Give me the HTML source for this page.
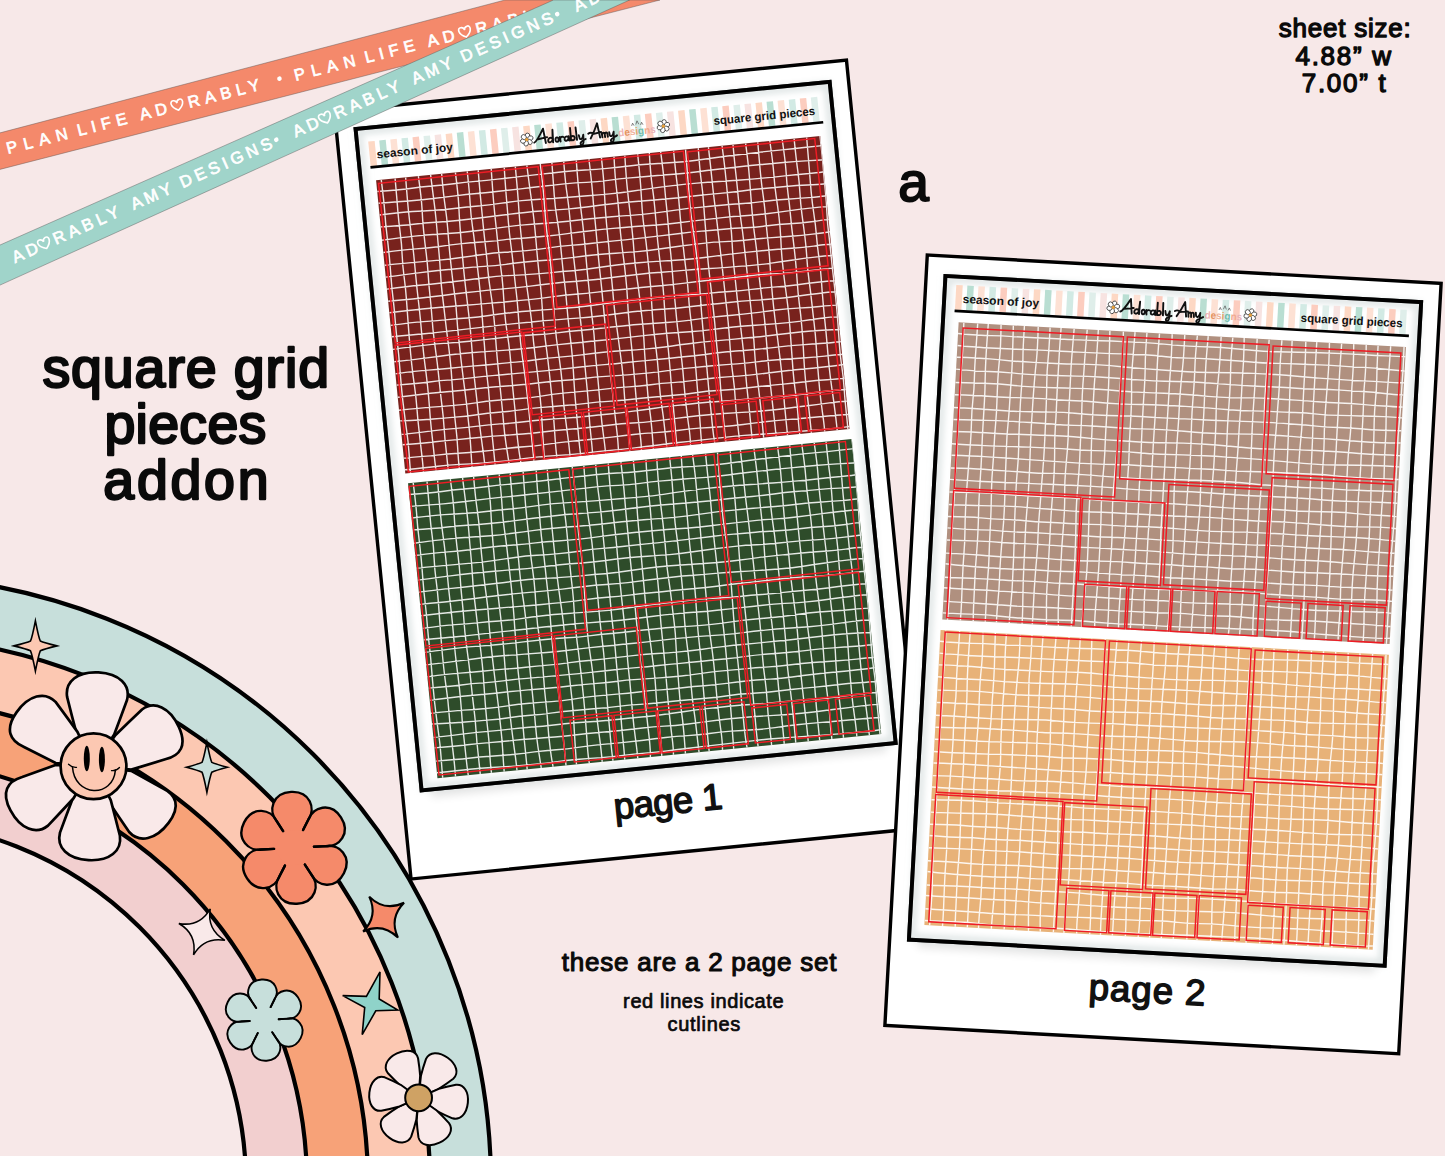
<!DOCTYPE html>
<html><head><meta charset="utf-8"><title>square grid pieces addon</title>
<style>html,body{margin:0;padding:0;background:#f7e8e8;}body{width:1445px;height:1156px;overflow:hidden;font-family:"Liberation Sans",sans-serif;}</style>
</head><body>
<svg width="1445" height="1156" viewBox="0 0 1445 1156" style="display:block;font-family:'Liberation Sans',sans-serif">
<defs>
<path id="grid" d="M5.2 0.0Q5.8 22.0 5.5 33.0Q5.1 44.0 5.4 55.0Q5.6 66.0 5.6 77.0Q5.5 88.0 5.2 99.0Q4.9 110.0 5.2 121.0Q5.4 132.0 5.1 143.0Q4.9 154.0 5.1 165.0Q5.3 176.0 5.0 187.0Q4.8 198.0 4.7 209.0Q4.6 220.0 4.9 231.0Q5.1 242.0 5.6 253.0Q6.1 264.0 5.7 275.0Q5.4 286.0 5.3 293.0L5.2 300.0M19.1 0.0Q18.9 22.0 18.6 33.0Q18.4 44.0 18.8 55.0Q19.2 66.0 18.5 77.0Q17.9 88.0 18.3 99.0Q18.7 110.0 18.4 121.0Q18.1 132.0 17.8 143.0Q17.5 154.0 17.3 165.0Q17.1 176.0 17.2 187.0Q17.3 198.0 17.8 209.0Q18.3 220.0 18.0 231.0Q17.7 242.0 17.9 253.0Q18.0 264.0 18.2 275.0Q18.4 286.0 18.2 293.0L18.1 300.0M29.7 0.0Q29.2 22.0 29.2 33.0Q29.2 44.0 29.6 55.0Q30.1 66.0 30.1 77.0Q30.1 88.0 30.0 99.0Q29.9 110.0 30.1 121.0Q30.3 132.0 30.3 143.0Q30.2 154.0 30.1 165.0Q30.0 176.0 30.3 187.0Q30.7 198.0 30.8 209.0Q30.9 220.0 30.6 231.0Q30.2 242.0 30.3 253.0Q30.4 264.0 30.5 275.0Q30.5 286.0 30.8 293.0L31.1 300.0M42.5 0.0Q43.4 22.0 42.9 33.0Q42.3 44.0 42.3 55.0Q42.3 66.0 42.6 77.0Q42.9 88.0 42.5 99.0Q42.1 110.0 42.2 121.0Q42.3 132.0 42.0 143.0Q41.6 154.0 42.0 165.0Q42.4 176.0 42.7 187.0Q42.9 198.0 42.9 209.0Q42.9 220.0 43.2 231.0Q43.5 242.0 43.1 253.0Q42.7 264.0 42.9 275.0Q43.0 286.0 43.0 293.0L43.0 300.0M54.8 0.0Q55.4 22.0 55.7 33.0Q55.9 44.0 55.7 55.0Q55.4 66.0 55.4 77.0Q55.4 88.0 54.9 99.0Q54.3 110.0 54.6 121.0Q54.9 132.0 55.0 143.0Q55.1 154.0 55.5 165.0Q55.9 176.0 55.9 187.0Q56.0 198.0 55.5 209.0Q55.1 220.0 54.9 231.0Q54.7 242.0 54.9 253.0Q55.1 264.0 54.6 275.0Q54.1 286.0 54.2 293.0L54.3 300.0M65.9 0.0Q65.6 22.0 66.2 33.0Q66.7 44.0 66.5 55.0Q66.2 66.0 66.1 77.0Q66.1 88.0 66.2 99.0Q66.3 110.0 66.8 121.0Q67.3 132.0 66.8 143.0Q66.4 154.0 66.5 165.0Q66.6 176.0 66.7 187.0Q66.9 198.0 67.2 209.0Q67.6 220.0 67.8 231.0Q67.9 242.0 68.0 253.0Q68.2 264.0 67.7 275.0Q67.2 286.0 67.1 293.0L67.0 300.0M79.7 0.0Q80.3 22.0 79.8 33.0Q79.2 44.0 78.9 55.0Q78.6 66.0 78.5 77.0Q78.4 88.0 78.3 99.0Q78.3 110.0 78.5 121.0Q78.7 132.0 78.9 143.0Q79.1 154.0 78.9 165.0Q78.7 176.0 78.4 187.0Q78.0 198.0 78.2 209.0Q78.4 220.0 78.5 231.0Q78.5 242.0 78.7 253.0Q79.0 264.0 79.4 275.0Q79.9 286.0 79.9 293.0L79.9 300.0M91.6 0.0Q91.8 22.0 91.3 33.0Q90.8 44.0 91.3 55.0Q91.8 66.0 92.0 77.0Q92.1 88.0 92.3 99.0Q92.5 110.0 92.5 121.0Q92.5 132.0 92.2 143.0Q91.8 154.0 91.6 165.0Q91.5 176.0 91.1 187.0Q90.7 198.0 91.0 209.0Q91.3 220.0 90.9 231.0Q90.5 242.0 90.3 253.0Q90.1 264.0 90.2 275.0Q90.2 286.0 90.2 293.0L90.1 300.0M102.6 0.0Q102.2 22.0 102.2 33.0Q102.2 44.0 102.1 55.0Q102.1 66.0 102.3 77.0Q102.5 88.0 102.3 99.0Q102.2 110.0 102.8 121.0Q103.5 132.0 103.6 143.0Q103.7 154.0 103.4 165.0Q103.0 176.0 102.9 187.0Q102.8 198.0 102.9 209.0Q102.9 220.0 102.9 231.0Q103.0 242.0 102.8 253.0Q102.6 264.0 103.1 275.0Q103.7 286.0 104.1 293.0L104.5 300.0M115.7 0.0Q115.0 22.0 114.8 33.0Q114.7 44.0 114.8 55.0Q114.9 66.0 114.9 77.0Q114.9 88.0 115.4 99.0Q115.9 110.0 115.6 121.0Q115.2 132.0 114.9 143.0Q114.6 154.0 115.3 165.0Q116.0 176.0 116.0 187.0Q115.9 198.0 115.6 209.0Q115.2 220.0 115.4 231.0Q115.6 242.0 115.2 253.0Q114.8 264.0 115.1 275.0Q115.3 286.0 115.9 293.0L116.4 300.0M128.8 0.0Q128.0 22.0 127.9 33.0Q127.8 44.0 127.5 55.0Q127.3 66.0 127.7 77.0Q128.1 88.0 128.1 99.0Q128.1 110.0 128.3 121.0Q128.6 132.0 128.3 143.0Q128.0 154.0 127.8 165.0Q127.5 176.0 127.9 187.0Q128.3 198.0 128.7 209.0Q129.0 220.0 129.1 231.0Q129.2 242.0 129.2 253.0Q129.2 264.0 129.2 275.0Q129.2 286.0 129.2 293.0L129.1 300.0M139.9 0.0Q139.8 22.0 139.5 33.0Q139.1 44.0 138.9 55.0Q138.8 66.0 138.9 77.0Q139.0 88.0 139.1 99.0Q139.1 110.0 139.5 121.0Q139.9 132.0 140.4 143.0Q140.9 154.0 140.7 165.0Q140.5 176.0 140.8 187.0Q141.1 198.0 141.4 209.0Q141.6 220.0 141.7 231.0Q141.8 242.0 141.3 253.0Q140.8 264.0 140.4 275.0Q140.0 286.0 139.8 293.0L139.6 300.0M151.5 0.0Q152.1 22.0 152.6 33.0Q153.0 44.0 153.2 55.0Q153.3 66.0 153.1 77.0Q152.9 88.0 152.9 99.0Q152.9 110.0 153.1 121.0Q153.2 132.0 152.7 143.0Q152.1 154.0 152.3 165.0Q152.5 176.0 152.9 187.0Q153.2 198.0 153.3 209.0Q153.4 220.0 153.4 231.0Q153.4 242.0 153.1 253.0Q152.9 264.0 152.5 275.0Q152.1 286.0 152.4 293.0L152.8 300.0M165.0 0.0Q165.6 22.0 165.3 33.0Q165.0 44.0 164.8 55.0Q164.6 66.0 165.0 77.0Q165.4 88.0 165.4 99.0Q165.5 110.0 165.0 121.0Q164.5 132.0 164.2 143.0Q163.9 154.0 163.7 165.0Q163.6 176.0 164.2 187.0Q164.8 198.0 165.0 209.0Q165.2 220.0 164.8 231.0Q164.3 242.0 164.7 253.0Q165.0 264.0 165.4 275.0Q165.7 286.0 165.6 293.0L165.5 300.0M176.7 0.0Q176.1 22.0 175.8 33.0Q175.5 44.0 176.2 55.0Q177.0 66.0 177.1 77.0Q177.2 88.0 177.1 99.0Q177.0 110.0 177.4 121.0Q177.7 132.0 177.4 143.0Q177.2 154.0 177.4 165.0Q177.7 176.0 177.8 187.0Q177.9 198.0 177.4 209.0Q176.9 220.0 176.6 231.0Q176.4 242.0 176.3 253.0Q176.2 264.0 176.1 275.0Q176.0 286.0 176.3 293.0L176.5 300.0M188.6 0.0Q188.1 22.0 188.7 33.0Q189.2 44.0 189.1 55.0Q188.9 66.0 188.9 77.0Q188.9 88.0 189.0 99.0Q189.1 110.0 189.4 121.0Q189.8 132.0 189.5 143.0Q189.3 154.0 189.6 165.0Q189.9 176.0 189.7 187.0Q189.5 198.0 189.4 209.0Q189.3 220.0 189.3 231.0Q189.2 242.0 188.7 253.0Q188.3 264.0 188.4 275.0Q188.5 286.0 188.3 293.0L188.1 300.0M201.2 0.0Q200.6 22.0 200.7 33.0Q200.8 44.0 201.1 55.0Q201.4 66.0 201.4 77.0Q201.4 88.0 201.2 99.0Q201.0 110.0 201.1 121.0Q201.1 132.0 201.2 143.0Q201.3 154.0 201.5 165.0Q201.7 176.0 201.3 187.0Q200.8 198.0 200.9 209.0Q201.1 220.0 200.9 231.0Q200.7 242.0 200.6 253.0Q200.5 264.0 200.9 275.0Q201.3 286.0 201.3 293.0L201.3 300.0M213.9 0.0Q214.4 22.0 214.2 33.0Q213.9 44.0 213.9 55.0Q213.9 66.0 213.8 77.0Q213.7 88.0 213.6 99.0Q213.6 110.0 213.7 121.0Q213.8 132.0 213.7 143.0Q213.6 154.0 213.6 165.0Q213.5 176.0 213.5 187.0Q213.4 198.0 213.8 209.0Q214.2 220.0 214.2 231.0Q214.2 242.0 214.4 253.0Q214.5 264.0 214.7 275.0Q214.8 286.0 214.3 293.0L213.7 300.0M226.5 0.0Q226.7 22.0 226.1 33.0Q225.5 44.0 225.2 55.0Q224.9 66.0 225.0 77.0Q225.1 88.0 224.8 99.0Q224.6 110.0 224.6 121.0Q224.6 132.0 224.4 143.0Q224.3 154.0 224.7 165.0Q225.2 176.0 225.5 187.0Q225.9 198.0 226.2 209.0Q226.5 220.0 226.0 231.0Q225.5 242.0 225.7 253.0Q225.9 264.0 226.0 275.0Q226.1 286.0 225.6 293.0L225.2 300.0M239.1 0.0Q238.0 22.0 238.4 33.0Q238.7 44.0 238.4 55.0Q238.1 66.0 238.0 77.0Q238.0 88.0 238.4 99.0Q238.8 110.0 238.8 121.0Q238.9 132.0 238.4 143.0Q237.8 154.0 237.7 165.0Q237.7 176.0 237.7 187.0Q237.8 198.0 237.6 209.0Q237.5 220.0 237.3 231.0Q237.1 242.0 237.1 253.0Q237.1 264.0 237.4 275.0Q237.8 286.0 237.4 293.0L236.9 300.0M250.0 0.0Q249.1 22.0 249.2 33.0Q249.2 44.0 249.5 55.0Q249.8 66.0 249.8 77.0Q249.9 88.0 249.5 99.0Q249.2 110.0 249.8 121.0Q250.4 132.0 250.6 143.0Q250.7 154.0 251.0 165.0Q251.3 176.0 250.6 187.0Q250.0 198.0 249.8 209.0Q249.6 220.0 249.3 231.0Q248.9 242.0 249.4 253.0Q249.9 264.0 249.7 275.0Q249.5 286.0 249.3 293.0L249.1 300.0M262.9 0.0Q263.1 22.0 262.7 33.0Q262.3 44.0 261.9 55.0Q261.6 66.0 262.1 77.0Q262.6 88.0 262.6 99.0Q262.6 110.0 262.7 121.0Q262.8 132.0 262.3 143.0Q261.8 154.0 261.5 165.0Q261.2 176.0 261.6 187.0Q262.0 198.0 262.0 209.0Q261.9 220.0 261.6 231.0Q261.3 242.0 261.9 253.0Q262.5 264.0 262.5 275.0Q262.6 286.0 262.8 293.0L263.0 300.0M274.6 0.0Q273.7 22.0 274.2 33.0Q274.7 44.0 274.6 55.0Q274.5 66.0 274.3 77.0Q274.1 88.0 274.3 99.0Q274.4 110.0 274.8 121.0Q275.1 132.0 274.8 143.0Q274.4 154.0 274.1 165.0Q273.7 176.0 273.9 187.0Q274.1 198.0 273.9 209.0Q273.8 220.0 273.5 231.0Q273.3 242.0 273.3 253.0Q273.2 264.0 273.1 275.0Q272.9 286.0 273.0 293.0L273.1 300.0M286.0 0.0Q286.8 22.0 286.5 33.0Q286.3 44.0 286.4 55.0Q286.4 66.0 286.2 77.0Q285.9 88.0 285.9 99.0Q286.0 110.0 285.7 121.0Q285.4 132.0 285.4 143.0Q285.5 154.0 285.3 165.0Q285.1 176.0 285.7 187.0Q286.2 198.0 286.3 209.0Q286.5 220.0 286.2 231.0Q286.0 242.0 286.1 253.0Q286.2 264.0 286.7 275.0Q287.2 286.0 286.7 293.0L286.2 300.0M299.0 0.0Q298.9 22.0 299.2 33.0Q299.5 44.0 299.2 55.0Q299.0 66.0 298.9 77.0Q298.9 88.0 299.1 99.0Q299.2 110.0 299.5 121.0Q299.9 132.0 299.5 143.0Q299.1 154.0 299.3 165.0Q299.6 176.0 299.6 187.0Q299.6 198.0 299.5 209.0Q299.5 220.0 299.2 231.0Q299.0 242.0 298.8 253.0Q298.6 264.0 298.3 275.0Q297.9 286.0 297.8 293.0L297.6 300.0M311.0 0.0Q310.5 22.0 310.3 33.0Q310.1 44.0 310.0 55.0Q309.8 66.0 310.4 77.0Q310.9 88.0 311.3 99.0Q311.6 110.0 311.6 121.0Q311.7 132.0 311.3 143.0Q311.0 154.0 310.7 165.0Q310.5 176.0 310.4 187.0Q310.4 198.0 310.5 209.0Q310.6 220.0 310.4 231.0Q310.2 242.0 310.3 253.0Q310.4 264.0 310.3 275.0Q310.3 286.0 310.8 293.0L311.4 300.0M323.8 0.0Q323.1 22.0 323.5 33.0Q324.0 44.0 323.6 55.0Q323.3 66.0 323.1 77.0Q323.0 88.0 322.6 99.0Q322.2 110.0 322.3 121.0Q322.4 132.0 322.6 143.0Q322.7 154.0 322.8 165.0Q322.9 176.0 322.7 187.0Q322.5 198.0 322.7 209.0Q322.8 220.0 322.5 231.0Q322.1 242.0 322.1 253.0Q322.2 264.0 322.0 275.0Q321.9 286.0 322.1 293.0L322.3 300.0M334.0 0.0Q334.3 22.0 334.3 33.0Q334.3 44.0 334.6 55.0Q335.0 66.0 335.1 77.0Q335.2 88.0 335.5 99.0Q335.7 110.0 335.8 121.0Q335.9 132.0 336.0 143.0Q336.0 154.0 336.2 165.0Q336.4 176.0 336.1 187.0Q335.8 198.0 335.5 209.0Q335.3 220.0 335.8 231.0Q336.2 242.0 335.7 253.0Q335.2 264.0 335.5 275.0Q335.7 286.0 335.8 293.0L335.8 300.0M347.7 0.0Q348.4 22.0 348.3 33.0Q348.2 44.0 348.3 55.0Q348.4 66.0 348.5 77.0Q348.6 88.0 348.0 99.0Q347.5 110.0 347.5 121.0Q347.6 132.0 347.6 143.0Q347.6 154.0 347.9 165.0Q348.2 176.0 348.3 187.0Q348.5 198.0 348.6 209.0Q348.7 220.0 348.5 231.0Q348.3 242.0 348.5 253.0Q348.7 264.0 348.6 275.0Q348.5 286.0 348.5 293.0L348.5 300.0M358.7 0.0Q358.5 22.0 358.7 33.0Q358.8 44.0 358.7 55.0Q358.6 66.0 359.1 77.0Q359.7 88.0 359.8 99.0Q359.9 110.0 360.0 121.0Q360.1 132.0 360.1 143.0Q360.2 154.0 360.3 165.0Q360.3 176.0 360.2 187.0Q360.1 198.0 359.6 209.0Q359.1 220.0 359.5 231.0Q359.9 242.0 360.1 253.0Q360.3 264.0 360.2 275.0Q360.1 286.0 360.1 293.0L360.0 300.0M371.4 0.0Q372.1 22.0 371.8 33.0Q371.6 44.0 371.3 55.0Q371.0 66.0 371.0 77.0Q371.0 88.0 371.5 99.0Q371.9 110.0 371.6 121.0Q371.4 132.0 371.8 143.0Q372.1 154.0 372.5 165.0Q372.9 176.0 372.7 187.0Q372.5 198.0 372.3 209.0Q372.1 220.0 372.0 231.0Q372.0 242.0 372.2 253.0Q372.3 264.0 372.5 275.0Q372.7 286.0 372.6 293.0L372.6 300.0M383.6 0.0Q383.2 22.0 383.2 33.0Q383.2 44.0 383.7 55.0Q384.1 66.0 383.9 77.0Q383.8 88.0 383.9 99.0Q384.1 110.0 383.7 121.0Q383.3 132.0 383.1 143.0Q382.9 154.0 383.0 165.0Q383.1 176.0 383.5 187.0Q383.9 198.0 384.1 209.0Q384.4 220.0 384.5 231.0Q384.6 242.0 384.3 253.0Q384.0 264.0 384.1 275.0Q384.1 286.0 384.1 293.0L384.1 300.0M395.7 0.0Q396.7 22.0 396.4 33.0Q396.0 44.0 396.5 55.0Q397.1 66.0 397.3 77.0Q397.5 88.0 396.9 99.0Q396.2 110.0 396.2 121.0Q396.2 132.0 396.5 143.0Q396.9 154.0 397.2 165.0Q397.5 176.0 397.2 187.0Q396.9 198.0 396.6 209.0Q396.3 220.0 396.0 231.0Q395.8 242.0 396.3 253.0Q396.9 264.0 396.5 275.0Q396.1 286.0 396.3 293.0L396.4 300.0M408.2 0.0Q409.2 22.0 408.8 33.0Q408.3 44.0 408.6 55.0Q409.0 66.0 408.9 77.0Q408.8 88.0 409.1 99.0Q409.4 110.0 409.4 121.0Q409.4 132.0 409.0 143.0Q408.6 154.0 408.9 165.0Q409.3 176.0 409.1 187.0Q409.0 198.0 408.5 209.0Q407.9 220.0 407.6 231.0Q407.3 242.0 407.6 253.0Q407.9 264.0 408.0 275.0Q408.1 286.0 408.1 293.0L408.0 300.0M420.1 0.0Q420.1 22.0 420.6 33.0Q421.0 44.0 420.5 55.0Q420.0 66.0 420.4 77.0Q420.8 88.0 421.1 99.0Q421.4 110.0 420.9 121.0Q420.5 132.0 420.9 143.0Q421.4 154.0 421.4 165.0Q421.5 176.0 421.7 187.0Q421.9 198.0 421.5 209.0Q421.0 220.0 420.9 231.0Q420.7 242.0 420.6 253.0Q420.6 264.0 421.1 275.0Q421.6 286.0 421.5 293.0L421.4 300.0M432.7 0.0Q432.4 22.0 432.2 33.0Q431.9 44.0 431.8 55.0Q431.7 66.0 432.3 77.0Q432.9 88.0 432.7 99.0Q432.5 110.0 433.0 121.0Q433.5 132.0 433.2 143.0Q432.8 154.0 432.7 165.0Q432.5 176.0 432.6 187.0Q432.7 198.0 432.5 209.0Q432.3 220.0 432.3 231.0Q432.4 242.0 432.9 253.0Q433.5 264.0 433.7 275.0Q434.0 286.0 434.0 293.0L434.1 300.0M446.1 0.0Q446.5 22.0 446.2 33.0Q446.0 44.0 446.0 55.0Q446.0 66.0 445.4 77.0Q444.8 88.0 445.1 99.0Q445.4 110.0 445.3 121.0Q445.2 132.0 445.5 143.0Q445.7 154.0 445.7 165.0Q445.7 176.0 445.4 187.0Q445.1 198.0 444.7 209.0Q444.3 220.0 444.9 231.0Q445.5 242.0 445.1 253.0Q444.7 264.0 444.8 275.0Q444.9 286.0 444.8 293.0L444.7 300.0M0.0 11.2Q22.0 12.0 33.0 11.5Q44.0 11.1 55.0 11.2Q66.0 11.3 77.0 11.1Q88.0 10.8 99.0 10.9Q110.0 11.0 121.0 10.9Q132.0 10.8 143.0 10.6Q154.0 10.3 165.0 10.2Q176.0 10.0 187.0 10.0Q198.0 9.9 209.0 10.5Q220.0 11.1 231.0 11.1Q242.0 11.1 253.0 10.8Q264.0 10.5 275.0 11.0Q286.0 11.5 297.0 11.8Q308.0 12.2 319.0 11.9Q330.0 11.5 341.0 11.1Q352.0 10.7 363.0 10.5Q374.0 10.3 385.0 10.1Q396.0 9.9 407.0 10.0Q418.0 10.1 429.0 9.9Q440.0 9.8 445.0 9.8L450.0 9.8M0.0 23.1Q22.0 23.8 33.0 23.9Q44.0 24.0 55.0 23.7Q66.0 23.5 77.0 23.3Q88.0 23.2 99.0 23.2Q110.0 23.2 121.0 23.1Q132.0 23.0 143.0 22.9Q154.0 22.8 165.0 22.5Q176.0 22.2 187.0 22.2Q198.0 22.2 209.0 22.9Q220.0 23.5 231.0 23.1Q242.0 22.7 253.0 22.8Q264.0 22.9 275.0 23.1Q286.0 23.3 297.0 23.6Q308.0 23.9 319.0 23.5Q330.0 23.1 341.0 22.9Q352.0 22.7 363.0 22.6Q374.0 22.5 385.0 22.6Q396.0 22.6 407.0 22.7Q418.0 22.8 429.0 23.3Q440.0 23.8 445.0 24.0L450.0 24.2M0.0 34.9Q22.0 34.3 33.0 34.7Q44.0 35.2 55.0 35.6Q66.0 36.0 77.0 35.8Q88.0 35.7 99.0 35.7Q110.0 35.7 121.0 35.2Q132.0 34.7 143.0 34.7Q154.0 34.8 165.0 35.3Q176.0 35.8 187.0 36.0Q198.0 36.2 209.0 36.4Q220.0 36.5 231.0 36.7Q242.0 36.9 253.0 36.3Q264.0 35.7 275.0 35.3Q286.0 34.9 297.0 34.7Q308.0 34.5 319.0 34.7Q330.0 34.9 341.0 35.2Q352.0 35.5 363.0 35.9Q374.0 36.2 385.0 36.2Q396.0 36.3 407.0 36.2Q418.0 36.1 429.0 36.2Q440.0 36.3 445.0 36.0L450.0 35.8M0.0 46.8Q22.0 47.7 33.0 47.4Q44.0 47.2 55.0 47.6Q66.0 48.1 77.0 48.1Q88.0 48.1 99.0 47.8Q110.0 47.5 121.0 47.2Q132.0 46.9 143.0 46.8Q154.0 46.8 165.0 47.1Q176.0 47.4 187.0 47.6Q198.0 47.8 209.0 47.4Q220.0 47.0 231.0 46.8Q242.0 46.5 253.0 46.8Q264.0 47.0 275.0 47.2Q286.0 47.4 297.0 47.4Q308.0 47.3 319.0 47.1Q330.0 46.9 341.0 47.2Q352.0 47.4 363.0 47.0Q374.0 46.6 385.0 46.7Q396.0 46.7 407.0 46.9Q418.0 47.0 429.0 47.6Q440.0 48.1 445.0 48.1L450.0 48.1M0.0 60.2Q22.0 59.5 33.0 59.4Q44.0 59.2 55.0 59.7Q66.0 60.3 77.0 60.4Q88.0 60.4 99.0 60.1Q110.0 59.8 121.0 59.4Q132.0 58.9 143.0 59.1Q154.0 59.3 165.0 59.6Q176.0 59.9 187.0 59.8Q198.0 59.7 209.0 59.5Q220.0 59.3 231.0 59.6Q242.0 59.8 253.0 60.2Q264.0 60.6 275.0 60.2Q286.0 59.7 297.0 59.3Q308.0 58.9 319.0 59.0Q330.0 59.0 341.0 59.1Q352.0 59.2 363.0 59.5Q374.0 59.8 385.0 59.5Q396.0 59.3 407.0 59.7Q418.0 60.0 429.0 60.2Q440.0 60.4 445.0 60.2L450.0 60.1M0.0 72.5Q22.0 71.9 33.0 72.2Q44.0 72.5 55.0 72.2Q66.0 71.8 77.0 71.6Q88.0 71.4 99.0 71.8Q110.0 72.1 121.0 71.9Q132.0 71.7 143.0 72.2Q154.0 72.7 165.0 72.5Q176.0 72.4 187.0 72.0Q198.0 71.6 209.0 71.5Q220.0 71.3 231.0 71.4Q242.0 71.5 253.0 71.7Q264.0 72.0 275.0 72.4Q286.0 72.8 297.0 72.3Q308.0 71.8 319.0 71.8Q330.0 71.7 341.0 71.5Q352.0 71.3 363.0 71.9Q374.0 72.5 385.0 72.0Q396.0 71.6 407.0 71.3Q418.0 71.0 429.0 70.8Q440.0 70.6 445.0 70.9L450.0 71.1M0.0 85.3Q22.0 85.2 33.0 85.5Q44.0 85.7 55.0 85.7Q66.0 85.8 77.0 85.3Q88.0 84.8 99.0 84.4Q110.0 83.9 121.0 84.4Q132.0 84.8 143.0 84.9Q154.0 85.0 165.0 84.4Q176.0 83.8 187.0 84.0Q198.0 84.3 209.0 84.1Q220.0 84.0 231.0 83.9Q242.0 83.9 253.0 83.8Q264.0 83.7 275.0 83.5Q286.0 83.3 297.0 83.1Q308.0 82.8 319.0 82.9Q330.0 83.1 341.0 83.2Q352.0 83.3 363.0 83.9Q374.0 84.5 385.0 84.1Q396.0 83.7 407.0 84.2Q418.0 84.8 429.0 84.4Q440.0 84.0 445.0 83.9L450.0 83.8M0.0 97.3Q22.0 96.8 33.0 96.3Q44.0 95.8 55.0 95.9Q66.0 96.0 77.0 96.0Q88.0 96.0 99.0 96.4Q110.0 96.9 121.0 96.5Q132.0 96.1 143.0 96.1Q154.0 96.0 165.0 96.5Q176.0 96.9 187.0 96.4Q198.0 95.8 209.0 95.9Q220.0 95.9 231.0 96.3Q242.0 96.7 253.0 96.9Q264.0 97.0 275.0 96.5Q286.0 95.9 297.0 95.6Q308.0 95.3 319.0 95.2Q330.0 95.0 341.0 95.7Q352.0 96.4 363.0 96.2Q374.0 96.0 385.0 96.3Q396.0 96.6 407.0 96.9Q418.0 97.2 429.0 96.9Q440.0 96.6 445.0 96.3L450.0 96.1M0.0 109.3Q22.0 108.6 33.0 108.8Q44.0 109.0 55.0 108.7Q66.0 108.5 77.0 108.3Q88.0 108.1 99.0 107.8Q110.0 107.4 121.0 107.9Q132.0 108.4 143.0 108.8Q154.0 109.3 165.0 109.2Q176.0 109.2 187.0 109.5Q198.0 109.7 209.0 109.0Q220.0 108.4 231.0 108.2Q242.0 108.0 253.0 108.1Q264.0 108.2 275.0 108.7Q286.0 109.2 297.0 109.5Q308.0 109.8 319.0 109.4Q330.0 109.0 341.0 108.7Q352.0 108.4 363.0 108.4Q374.0 108.4 385.0 108.4Q396.0 108.5 407.0 108.9Q418.0 109.3 429.0 108.9Q440.0 108.4 445.0 108.7L450.0 109.0M0.0 121.6Q22.0 121.8 33.0 121.6Q44.0 121.5 55.0 121.2Q66.0 120.9 77.0 120.7Q88.0 120.5 99.0 120.5Q110.0 120.4 121.0 120.7Q132.0 121.1 143.0 120.6Q154.0 120.2 165.0 120.1Q176.0 119.9 187.0 120.3Q198.0 120.8 209.0 120.6Q220.0 120.3 231.0 120.0Q242.0 119.8 253.0 119.6Q264.0 119.4 275.0 119.8Q286.0 120.1 297.0 120.1Q308.0 120.1 319.0 120.7Q330.0 121.3 341.0 121.5Q352.0 121.8 363.0 122.0Q374.0 122.2 385.0 121.7Q396.0 121.1 407.0 120.7Q418.0 120.2 429.0 120.0Q440.0 119.8 445.0 120.0L450.0 120.2M0.0 133.1Q22.0 132.6 33.0 132.6Q44.0 132.6 55.0 132.8Q66.0 133.0 77.0 133.2Q88.0 133.3 99.0 133.5Q110.0 133.6 121.0 133.8Q132.0 134.0 143.0 133.9Q154.0 133.8 165.0 133.3Q176.0 132.8 187.0 133.1Q198.0 133.5 209.0 133.2Q220.0 132.9 231.0 133.0Q242.0 133.1 253.0 132.9Q264.0 132.8 275.0 133.1Q286.0 133.3 297.0 133.0Q308.0 132.6 319.0 132.5Q330.0 132.3 341.0 132.3Q352.0 132.2 363.0 132.1Q374.0 131.9 385.0 132.5Q396.0 133.1 407.0 133.1Q418.0 133.2 429.0 133.0Q440.0 132.8 445.0 132.7L450.0 132.7M0.0 145.8Q22.0 145.0 33.0 145.3Q44.0 145.7 55.0 145.7Q66.0 145.7 77.0 146.1Q88.0 146.4 99.0 145.8Q110.0 145.1 121.0 145.1Q132.0 145.1 143.0 145.4Q154.0 145.7 165.0 145.9Q176.0 146.1 187.0 146.3Q198.0 146.4 209.0 145.7Q220.0 145.1 231.0 144.9Q242.0 144.7 253.0 144.5Q264.0 144.3 275.0 144.2Q286.0 144.1 297.0 144.8Q308.0 145.5 319.0 145.5Q330.0 145.5 341.0 145.8Q352.0 146.1 363.0 145.8Q374.0 145.5 385.0 145.8Q396.0 146.0 407.0 145.8Q418.0 145.6 429.0 145.3Q440.0 145.0 445.0 145.3L450.0 145.6M0.0 157.2Q22.0 157.5 33.0 157.5Q44.0 157.6 55.0 157.3Q66.0 157.0 77.0 157.0Q88.0 157.0 99.0 156.7Q110.0 156.5 121.0 156.4Q132.0 156.4 143.0 156.4Q154.0 156.4 165.0 156.7Q176.0 157.0 187.0 157.2Q198.0 157.5 209.0 157.2Q220.0 156.9 231.0 156.6Q242.0 156.2 253.0 156.4Q264.0 156.5 275.0 156.8Q286.0 157.2 297.0 157.0Q308.0 156.7 319.0 156.7Q330.0 156.7 341.0 156.6Q352.0 156.5 363.0 156.9Q374.0 157.4 385.0 157.5Q396.0 157.5 407.0 157.1Q418.0 156.7 429.0 156.5Q440.0 156.3 445.0 156.4L450.0 156.6M0.0 169.9Q22.0 169.0 33.0 168.9Q44.0 168.7 55.0 169.1Q66.0 169.4 77.0 169.4Q88.0 169.4 99.0 169.2Q110.0 169.1 121.0 169.0Q132.0 169.0 143.0 169.5Q154.0 170.1 165.0 169.8Q176.0 169.5 187.0 169.6Q198.0 169.7 209.0 169.5Q220.0 169.4 231.0 169.4Q242.0 169.3 253.0 169.7Q264.0 170.1 275.0 170.4Q286.0 170.8 297.0 170.4Q308.0 170.0 319.0 169.6Q330.0 169.3 341.0 169.6Q352.0 169.8 363.0 169.5Q374.0 169.2 385.0 168.8Q396.0 168.5 407.0 169.1Q418.0 169.7 429.0 169.6Q440.0 169.5 445.0 169.8L450.0 170.1M0.0 182.4Q22.0 182.1 33.0 181.7Q44.0 181.3 55.0 181.0Q66.0 180.7 77.0 181.0Q88.0 181.3 99.0 181.5Q110.0 181.8 121.0 182.1Q132.0 182.5 143.0 182.0Q154.0 181.5 165.0 181.6Q176.0 181.8 187.0 181.7Q198.0 181.6 209.0 181.6Q220.0 181.7 231.0 181.4Q242.0 181.1 253.0 181.1Q264.0 181.0 275.0 181.2Q286.0 181.4 297.0 181.9Q308.0 182.4 319.0 181.9Q330.0 181.4 341.0 181.5Q352.0 181.6 363.0 181.9Q374.0 182.2 385.0 182.5Q396.0 182.9 407.0 182.4Q418.0 181.8 429.0 181.5Q440.0 181.2 445.0 181.7L450.0 182.2M0.0 194.5Q22.0 193.5 33.0 194.0Q44.0 194.5 55.0 194.3Q66.0 194.1 77.0 194.4Q88.0 194.8 99.0 194.7Q110.0 194.6 121.0 194.8Q132.0 194.9 143.0 194.4Q154.0 193.9 165.0 194.2Q176.0 194.5 187.0 194.1Q198.0 193.8 209.0 193.7Q220.0 193.7 231.0 194.1Q242.0 194.5 253.0 194.6Q264.0 194.8 275.0 194.4Q286.0 193.9 297.0 193.7Q308.0 193.4 319.0 193.5Q330.0 193.5 341.0 193.6Q352.0 193.8 363.0 193.7Q374.0 193.7 385.0 193.4Q396.0 193.1 407.0 193.1Q418.0 193.1 429.0 193.5Q440.0 193.9 445.0 194.3L450.0 194.7M0.0 205.8Q22.0 206.4 33.0 206.0Q44.0 205.5 55.0 206.0Q66.0 206.4 77.0 206.0Q88.0 205.6 99.0 205.9Q110.0 206.1 121.0 206.1Q132.0 206.2 143.0 206.3Q154.0 206.4 165.0 206.2Q176.0 206.0 187.0 206.0Q198.0 205.9 209.0 206.1Q220.0 206.2 231.0 206.1Q242.0 206.1 253.0 206.2Q264.0 206.4 275.0 206.3Q286.0 206.2 297.0 206.2Q308.0 206.1 319.0 205.7Q330.0 205.3 341.0 205.6Q352.0 205.9 363.0 206.0Q374.0 206.0 385.0 205.8Q396.0 205.6 407.0 206.0Q418.0 206.4 429.0 206.6Q440.0 206.8 445.0 206.6L450.0 206.5M0.0 218.0Q22.0 217.5 33.0 217.3Q44.0 217.2 55.0 217.4Q66.0 217.6 77.0 217.4Q88.0 217.2 99.0 217.4Q110.0 217.7 121.0 217.8Q132.0 218.0 143.0 217.7Q154.0 217.4 165.0 217.7Q176.0 218.1 187.0 217.8Q198.0 217.5 209.0 217.9Q220.0 218.3 231.0 218.6Q242.0 218.8 253.0 218.8Q264.0 218.7 275.0 218.2Q286.0 217.7 297.0 217.9Q308.0 218.0 319.0 218.0Q330.0 218.0 341.0 218.5Q352.0 219.0 363.0 218.5Q374.0 218.1 385.0 218.5Q396.0 218.9 407.0 219.2Q418.0 219.5 429.0 219.5Q440.0 219.4 445.0 219.5L450.0 219.5M0.0 231.1Q22.0 230.9 33.0 231.2Q44.0 231.6 55.0 231.7Q66.0 231.9 77.0 231.3Q88.0 230.7 99.0 230.9Q110.0 231.2 121.0 231.4Q132.0 231.7 143.0 231.1Q154.0 230.4 165.0 230.3Q176.0 230.2 187.0 230.5Q198.0 230.9 209.0 230.5Q220.0 230.1 231.0 230.6Q242.0 231.1 253.0 230.7Q264.0 230.4 275.0 230.8Q286.0 231.1 297.0 230.7Q308.0 230.2 319.0 230.3Q330.0 230.4 341.0 230.8Q352.0 231.2 363.0 230.8Q374.0 230.4 385.0 230.3Q396.0 230.1 407.0 230.2Q418.0 230.3 429.0 230.2Q440.0 230.1 445.0 229.8L450.0 229.5M0.0 241.8Q22.0 243.1 33.0 243.2Q44.0 243.3 55.0 243.5Q66.0 243.8 77.0 243.3Q88.0 242.7 99.0 243.0Q110.0 243.3 121.0 242.8Q132.0 242.4 143.0 242.5Q154.0 242.6 165.0 242.8Q176.0 242.9 187.0 242.8Q198.0 242.6 209.0 243.0Q220.0 243.4 231.0 243.3Q242.0 243.2 253.0 243.2Q264.0 243.2 275.0 243.4Q286.0 243.7 297.0 243.1Q308.0 242.6 319.0 243.1Q330.0 243.6 341.0 243.5Q352.0 243.5 363.0 243.2Q374.0 243.0 385.0 243.2Q396.0 243.4 407.0 243.1Q418.0 242.7 429.0 243.2Q440.0 243.6 445.0 243.5L450.0 243.4M0.0 255.3Q22.0 255.1 33.0 254.8Q44.0 254.5 55.0 254.8Q66.0 255.1 77.0 254.7Q88.0 254.3 99.0 254.7Q110.0 255.2 121.0 254.9Q132.0 254.7 143.0 254.9Q154.0 255.1 165.0 255.5Q176.0 255.9 187.0 255.8Q198.0 255.7 209.0 255.7Q220.0 255.7 231.0 255.3Q242.0 255.0 253.0 254.6Q264.0 254.1 275.0 253.9Q286.0 253.7 297.0 253.7Q308.0 253.6 319.0 254.1Q330.0 254.5 341.0 254.5Q352.0 254.6 363.0 254.7Q374.0 254.8 385.0 255.2Q396.0 255.6 407.0 255.1Q418.0 254.7 429.0 254.5Q440.0 254.3 445.0 254.6L450.0 254.9M0.0 265.8Q22.0 266.2 33.0 266.0Q44.0 265.9 55.0 266.1Q66.0 266.2 77.0 266.2Q88.0 266.2 99.0 266.5Q110.0 266.8 121.0 267.0Q132.0 267.1 143.0 266.9Q154.0 266.6 165.0 266.9Q176.0 267.1 187.0 267.1Q198.0 267.1 209.0 266.8Q220.0 266.5 231.0 267.0Q242.0 267.6 253.0 267.3Q264.0 267.0 275.0 266.7Q286.0 266.4 297.0 266.2Q308.0 266.1 319.0 266.4Q330.0 266.8 341.0 267.2Q352.0 267.7 363.0 267.8Q374.0 268.0 385.0 267.7Q396.0 267.4 407.0 267.2Q418.0 266.9 429.0 266.5Q440.0 266.2 445.0 266.5L450.0 266.9M0.0 279.2Q22.0 279.6 33.0 279.5Q44.0 279.4 55.0 279.8Q66.0 280.2 77.0 280.2Q88.0 280.2 99.0 279.8Q110.0 279.4 121.0 279.8Q132.0 280.1 143.0 279.6Q154.0 279.0 165.0 279.1Q176.0 279.2 187.0 279.2Q198.0 279.1 209.0 279.0Q220.0 278.8 231.0 278.5Q242.0 278.3 253.0 278.8Q264.0 279.3 275.0 278.9Q286.0 278.5 297.0 278.7Q308.0 279.0 319.0 279.5Q330.0 280.0 341.0 279.5Q352.0 279.1 363.0 278.9Q374.0 278.7 385.0 278.9Q396.0 279.2 407.0 279.2Q418.0 279.3 429.0 279.4Q440.0 279.6 445.0 279.8L450.0 280.1M0.0 290.9Q22.0 290.9 33.0 290.6Q44.0 290.4 55.0 291.0Q66.0 291.6 77.0 291.9Q88.0 292.1 99.0 292.2Q110.0 292.3 121.0 291.7Q132.0 291.1 143.0 291.5Q154.0 291.9 165.0 292.1Q176.0 292.2 187.0 292.1Q198.0 291.9 209.0 292.0Q220.0 292.2 231.0 292.0Q242.0 291.8 253.0 291.5Q264.0 291.2 275.0 291.0Q286.0 290.7 297.0 290.7Q308.0 290.6 319.0 290.4Q330.0 290.2 341.0 290.4Q352.0 290.6 363.0 291.0Q374.0 291.5 385.0 291.7Q396.0 291.9 407.0 292.1Q418.0 292.4 429.0 292.4Q440.0 292.4 445.0 292.0L450.0 291.6" fill="none" stroke="#fff" stroke-opacity=".88" stroke-width="1.4"/>
<filter id="sh" x="-10%" y="-10%" width="120%" height="130%"><feGaussianBlur stdDeviation="4"/></filter>
<filter id="sh2" x="-5%" y="-5%" width="110%" height="110%"><feGaussianBlur stdDeviation="3"/></filter>
</defs>
<rect width="1445" height="1156" fill="#f7e8e8"/>
<circle cx="-117" cy="1184" r="577.5" fill="none" stroke="#c7dfdb" stroke-width="61"/>
<circle cx="-117" cy="1184" r="516.0" fill="none" stroke="#fcc8b2" stroke-width="62"/>
<circle cx="-117" cy="1184" r="454.5" fill="none" stroke="#f7a278" stroke-width="61"/>
<circle cx="-117" cy="1184" r="393.5" fill="none" stroke="#f2cfcf" stroke-width="61"/>
<circle cx="-117" cy="1184" r="608" fill="none" stroke="#000" stroke-width="4.2"/>
<circle cx="-117" cy="1184" r="547" fill="none" stroke="#000" stroke-width="4.2"/>
<circle cx="-117" cy="1184" r="485" fill="none" stroke="#000" stroke-width="4.2"/>
<circle cx="-117" cy="1184" r="424" fill="none" stroke="#000" stroke-width="4.2"/>
<circle cx="-117" cy="1184" r="363" fill="none" stroke="#000" stroke-width="4.2"/>
<path transform="translate(35.4 645.9) rotate(0)" d="M0 -25.1Q3.3 -8.3 4.9 -4.9Q8.3 -3.3 21.5 0.0Q8.3 3.3 4.9 4.9Q3.3 8.3 0.0 25.1Q-3.3 8.3 -4.9 4.9Q-8.3 3.3 -21.5 0.0Q-8.3 -3.3 -4.9 -4.9Q-3.3 -8.3 0.0 -25.1Z" fill="#fcc8b2" stroke="#000" stroke-width="1.6" stroke-linejoin="miter" stroke-miterlimit="12"/>
<g transform="translate(93.5 766.3)"><g transform="scale(1.0000)" stroke-linejoin="round"><path transform="rotate(3)" d="M0 0L-19.0 -32.9Q-24.5 -50 -30 -68C-33 -83 -21 -94 0 -94C21 -94 33 -83 30 -68Q24.5 -50 19.0 -32.9Z" fill="#f9e9e9" stroke="#000" stroke-width="2.70"/><path transform="rotate(65)" d="M0 0L-19.0 -32.9Q-25.0 -50 -31 -68C-34 -83 -21 -94 0 -94C21 -94 27 -83 24 -68Q21.5 -50 19.0 -32.9Z" fill="#f9e9e9" stroke="#000" stroke-width="2.70"/><path transform="rotate(127)" d="M0 0L-19.0 -32.9Q-21.5 -50 -24 -68C-27 -83 -21 -94 0 -94C21 -94 34 -83 31 -68Q25.0 -50 19.0 -32.9Z" fill="#f9e9e9" stroke="#000" stroke-width="2.70"/><path transform="rotate(183)" d="M0 0L-19.0 -32.9Q-24.5 -50 -30 -68C-33 -83 -21 -94 0 -94C21 -94 33 -83 30 -68Q24.5 -50 19.0 -32.9Z" fill="#f9e9e9" stroke="#000" stroke-width="2.70"/><path transform="rotate(242)" d="M0 0L-19.0 -32.9Q-25.0 -50 -31 -68C-34 -83 -21 -94 0 -94C21 -94 27 -83 24 -68Q21.5 -50 19.0 -32.9Z" fill="#f9e9e9" stroke="#000" stroke-width="2.70"/><path transform="rotate(305)" d="M0 0L-19.0 -32.9Q-21.5 -50 -24 -68C-27 -83 -21 -94 0 -94C21 -94 34 -83 31 -68Q25.0 -50 19.0 -32.9Z" fill="#f9e9e9" stroke="#000" stroke-width="2.70"/></g><circle r="32.9" fill="#fcc8b2" stroke="#000" stroke-width="2.7"/><ellipse cx="-6.7" cy="-7.8" rx="3" ry="12.8" fill="#000"/><ellipse cx="8.4" cy="-6.8" rx="3" ry="12.8" fill="#000"/><path d="M-21 0.8C-19 31 19.5 32 21.9 3.8" fill="none" stroke="#000" stroke-width="1.5" stroke-linecap="round"/><path d="M-25 -2Q-21.5 1.5 -17 1M18 4.3Q22.5 5 26 1.2" fill="none" stroke="#000" stroke-width="1.3" stroke-linecap="round"/></g>
<path transform="translate(206.9 767.3) rotate(0)" d="M0 -25.0Q3.3 -8.3 4.9 -4.9Q8.3 -3.3 20.5 0.0Q8.3 3.3 4.9 4.9Q3.3 8.3 0.0 25.0Q-3.3 8.3 -4.9 4.9Q-8.3 3.3 -20.5 0.0Q-8.3 -3.3 -4.9 -4.9Q-3.3 -8.3 0.0 -25.0Z" fill="#c7dfdb" stroke="#000" stroke-width="1.6" stroke-linejoin="miter" stroke-miterlimit="12"/>
<g transform="translate(294 847.8) scale(1.0000)" stroke-linecap="round" stroke-linejoin="round"><circle r="30" fill="#f58a6a"/><path transform="rotate(-3)" d="M-10 -17.3L-16 -27.7C-24 -38 -19 -56 0 -56C19 -56 24 -38 16 -27.7L10 -17.3Z" fill="#f58a6a" stroke="none"/><path transform="rotate(57)" d="M-10 -17.3L-16 -27.7C-24 -38 -19 -56 0 -56C19 -56 24 -38 16 -27.7L10 -17.3Z" fill="#f58a6a" stroke="none"/><path transform="rotate(117)" d="M-10 -17.3L-16 -27.7C-24 -38 -19 -56 0 -56C19 -56 24 -38 16 -27.7L10 -17.3Z" fill="#f58a6a" stroke="none"/><path transform="rotate(177)" d="M-10 -17.3L-16 -27.7C-24 -38 -19 -56 0 -56C19 -56 24 -38 16 -27.7L10 -17.3Z" fill="#f58a6a" stroke="none"/><path transform="rotate(237)" d="M-10 -17.3L-16 -27.7C-24 -38 -19 -56 0 -56C19 -56 24 -38 16 -27.7L10 -17.3Z" fill="#f58a6a" stroke="none"/><path transform="rotate(297)" d="M-10 -17.3L-16 -27.7C-24 -38 -19 -56 0 -56C19 -56 24 -38 16 -27.7L10 -17.3Z" fill="#f58a6a" stroke="none"/><path transform="rotate(-3)" d="M-10 -17.3L-16 -27.7C-24 -38 -19 -56 0 -56C19 -56 24 -38 16 -27.7L10 -17.3" fill="none" stroke="#000" stroke-width="2.40"/><path transform="rotate(57)" d="M-10 -17.3L-16 -27.7C-24 -38 -19 -56 0 -56C19 -56 24 -38 16 -27.7L10 -17.3" fill="none" stroke="#000" stroke-width="2.40"/><path transform="rotate(117)" d="M-10 -17.3L-16 -27.7C-24 -38 -19 -56 0 -56C19 -56 24 -38 16 -27.7L10 -17.3" fill="none" stroke="#000" stroke-width="2.40"/><path transform="rotate(177)" d="M-10 -17.3L-16 -27.7C-24 -38 -19 -56 0 -56C19 -56 24 -38 16 -27.7L10 -17.3" fill="none" stroke="#000" stroke-width="2.40"/><path transform="rotate(237)" d="M-10 -17.3L-16 -27.7C-24 -38 -19 -56 0 -56C19 -56 24 -38 16 -27.7L10 -17.3" fill="none" stroke="#000" stroke-width="2.40"/><path transform="rotate(297)" d="M-10 -17.3L-16 -27.7C-24 -38 -19 -56 0 -56C19 -56 24 -38 16 -27.7L10 -17.3" fill="none" stroke="#000" stroke-width="2.40"/></g>
<path transform="translate(383.6 917.1) rotate(55)" d="M0.0 -25.0Q3.8 -3.8 25.0 -0.0Q3.8 3.8 0.0 25.0Q-3.7 3.8 -25.0 0.0Q-3.8 -3.7 0.0 -25.0Z" fill="#f58a6a" stroke="#000" stroke-width="2.1" stroke-linejoin="miter"/>
<path transform="translate(201.9 931.9) rotate(20)" d="M0.0 -24.5Q3.7 -3.7 24.5 -0.0Q3.7 3.7 0.0 24.5Q-3.7 3.7 -24.5 0.0Q-3.7 -3.7 0.0 -24.5Z" fill="#f9e9e9" stroke="#000" stroke-width="1.5" stroke-linejoin="miter"/>
<g transform="translate(264.2 1020.1) scale(0.7268)" stroke-linecap="round" stroke-linejoin="round"><circle r="30" fill="#c7dfdb"/><path transform="rotate(-3.5999999999999943)" d="M-10 -17.3L-16 -27.7C-24 -38 -19 -56 0 -56C19 -56 24 -38 16 -27.7L10 -17.3Z" fill="#c7dfdb" stroke="none"/><path transform="rotate(56.400000000000006)" d="M-10 -17.3L-16 -27.7C-24 -38 -19 -56 0 -56C19 -56 24 -38 16 -27.7L10 -17.3Z" fill="#c7dfdb" stroke="none"/><path transform="rotate(116.4)" d="M-10 -17.3L-16 -27.7C-24 -38 -19 -56 0 -56C19 -56 24 -38 16 -27.7L10 -17.3Z" fill="#c7dfdb" stroke="none"/><path transform="rotate(176.4)" d="M-10 -17.3L-16 -27.7C-24 -38 -19 -56 0 -56C19 -56 24 -38 16 -27.7L10 -17.3Z" fill="#c7dfdb" stroke="none"/><path transform="rotate(236.4)" d="M-10 -17.3L-16 -27.7C-24 -38 -19 -56 0 -56C19 -56 24 -38 16 -27.7L10 -17.3Z" fill="#c7dfdb" stroke="none"/><path transform="rotate(296.4)" d="M-10 -17.3L-16 -27.7C-24 -38 -19 -56 0 -56C19 -56 24 -38 16 -27.7L10 -17.3Z" fill="#c7dfdb" stroke="none"/><path transform="rotate(-3.5999999999999943)" d="M-10 -17.3L-16 -27.7C-24 -38 -19 -56 0 -56C19 -56 24 -38 16 -27.7L10 -17.3" fill="none" stroke="#000" stroke-width="2.61"/><path transform="rotate(56.400000000000006)" d="M-10 -17.3L-16 -27.7C-24 -38 -19 -56 0 -56C19 -56 24 -38 16 -27.7L10 -17.3" fill="none" stroke="#000" stroke-width="2.61"/><path transform="rotate(116.4)" d="M-10 -17.3L-16 -27.7C-24 -38 -19 -56 0 -56C19 -56 24 -38 16 -27.7L10 -17.3" fill="none" stroke="#000" stroke-width="2.61"/><path transform="rotate(176.4)" d="M-10 -17.3L-16 -27.7C-24 -38 -19 -56 0 -56C19 -56 24 -38 16 -27.7L10 -17.3" fill="none" stroke="#000" stroke-width="2.61"/><path transform="rotate(236.4)" d="M-10 -17.3L-16 -27.7C-24 -38 -19 -56 0 -56C19 -56 24 -38 16 -27.7L10 -17.3" fill="none" stroke="#000" stroke-width="2.61"/><path transform="rotate(296.4)" d="M-10 -17.3L-16 -27.7C-24 -38 -19 -56 0 -56C19 -56 24 -38 16 -27.7L10 -17.3" fill="none" stroke="#000" stroke-width="2.61"/></g>
<path d="M380 971.9L379.2 999L397.8 1010L375.8 1010.8L362.2 1034.6L364.7 1007.5L342.7 995.6L366.4 996.4Z" fill="#8fd3c9" stroke="#000" stroke-width="1.6" stroke-linejoin="miter"/>
<g transform="translate(418.6 1097.8)"><g transform="scale(0.5266)" stroke-linejoin="round"><path transform="rotate(-26)" d="M0 0L-21.0 -36.4Q-26.5 -50 -32 -68C-35 -83 -21 -94 0 -94C21 -94 35 -83 32 -68Q26.5 -50 21.0 -36.4Z" fill="#f9e9e9" stroke="#000" stroke-width="3.80"/><path transform="rotate(36)" d="M0 0L-21.0 -36.4Q-26.5 -50 -32 -68C-35 -83 -21 -94 0 -94C21 -94 35 -83 32 -68Q26.5 -50 21.0 -36.4Z" fill="#f9e9e9" stroke="#000" stroke-width="3.80"/><path transform="rotate(96)" d="M0 0L-21.0 -36.4Q-26.5 -50 -32 -68C-35 -83 -21 -94 0 -94C21 -94 35 -83 32 -68Q26.5 -50 21.0 -36.4Z" fill="#f9e9e9" stroke="#000" stroke-width="3.80"/><path transform="rotate(155)" d="M0 0L-21.0 -36.4Q-26.5 -50 -32 -68C-35 -83 -21 -94 0 -94C21 -94 35 -83 32 -68Q26.5 -50 21.0 -36.4Z" fill="#f9e9e9" stroke="#000" stroke-width="3.80"/><path transform="rotate(216)" d="M0 0L-21.0 -36.4Q-26.5 -50 -32 -68C-35 -83 -21 -94 0 -94C21 -94 35 -83 32 -68Q26.5 -50 21.0 -36.4Z" fill="#f9e9e9" stroke="#000" stroke-width="3.80"/><path transform="rotate(276)" d="M0 0L-21.0 -36.4Q-26.5 -50 -32 -68C-35 -83 -21 -94 0 -94C21 -94 35 -83 32 -68Q26.5 -50 21.0 -36.4Z" fill="#f9e9e9" stroke="#000" stroke-width="3.80"/></g><circle r="13.4" fill="#cfa264" stroke="#000" stroke-width="2.0"/></g>
<g transform="translate(628.75 469.55) rotate(-5.7) translate(-259.0 -387.5)">
<rect x="1.7" y="1.7" width="514.6" height="771.6" fill="#fff" stroke="#000" stroke-width="3.4"/>
<rect x="30" y="60" width="458" height="634" fill="#000" opacity=".10" filter="url(#sh)"/>
<rect x="21" y="21.6" width="476.4" height="664.6" fill="#fff" stroke="#000" stroke-width="3.9"/>
<rect x="24" y="24.6" width="470.4" height="658.6" fill="none" stroke="#dfe5e5" stroke-width="7" filter="url(#sh2)"/>
<rect x="21" y="21.6" width="476.4" height="664.6" fill="none" stroke="#000" stroke-width="3.9"/>
<g transform="translate(0 5.3)">
<rect x="32.3" y="30" width="6.5" height="24.8" fill="#fdd8c4"/>
<rect x="43.4" y="30" width="6.5" height="24.8" fill="#b9ded2"/>
<rect x="54.5" y="30" width="6.5" height="24.8" fill="#fde1d4"/>
<rect x="65.7" y="30" width="6.5" height="24.8" fill="#d2eae4"/>
<rect x="76.8" y="30" width="6.5" height="24.8" fill="#fccdbf"/>
<rect x="87.9" y="30" width="6.5" height="24.8" fill="#dfeeea"/>
<rect x="99.0" y="30" width="6.5" height="24.8" fill="#f7e3e1"/>
<rect x="110.1" y="30" width="6.5" height="24.8" fill="#fdd8c4"/>
<rect x="121.3" y="30" width="6.5" height="24.8" fill="#b9ded2"/>
<rect x="132.4" y="30" width="6.5" height="24.8" fill="#fde1d4"/>
<rect x="143.5" y="30" width="6.5" height="24.8" fill="#d2eae4"/>
<rect x="154.6" y="30" width="6.5" height="24.8" fill="#fccdbf"/>
<rect x="165.7" y="30" width="6.5" height="24.8" fill="#dfeeea"/>
<rect x="176.9" y="30" width="6.5" height="24.8" fill="#f7e3e1"/>
<rect x="188.0" y="30" width="6.5" height="24.8" fill="#fdd8c4"/>
<rect x="199.1" y="30" width="6.5" height="24.8" fill="#b9ded2"/>
<rect x="210.2" y="30" width="6.5" height="24.8" fill="#fde1d4"/>
<rect x="221.3" y="30" width="6.5" height="24.8" fill="#d2eae4"/>
<rect x="232.5" y="30" width="6.5" height="24.8" fill="#fccdbf"/>
<rect x="243.6" y="30" width="6.5" height="24.8" fill="#dfeeea"/>
<rect x="254.7" y="30" width="6.5" height="24.8" fill="#f7e3e1"/>
<rect x="265.8" y="30" width="6.5" height="24.8" fill="#fdd8c4"/>
<rect x="276.9" y="30" width="6.5" height="24.8" fill="#b9ded2"/>
<rect x="288.1" y="30" width="6.5" height="24.8" fill="#fde1d4"/>
<rect x="299.2" y="30" width="6.5" height="24.8" fill="#d2eae4"/>
<rect x="310.3" y="30" width="6.5" height="24.8" fill="#fccdbf"/>
<rect x="321.4" y="30" width="6.5" height="24.8" fill="#dfeeea"/>
<rect x="332.5" y="30" width="6.5" height="24.8" fill="#f7e3e1"/>
<rect x="343.7" y="30" width="6.5" height="24.8" fill="#fdd8c4"/>
<rect x="354.8" y="30" width="6.5" height="24.8" fill="#b9ded2"/>
<rect x="365.9" y="30" width="6.5" height="24.8" fill="#fde1d4"/>
<rect x="377.0" y="30" width="6.5" height="24.8" fill="#d2eae4"/>
<rect x="388.1" y="30" width="6.5" height="24.8" fill="#fccdbf"/>
<rect x="399.3" y="30" width="6.5" height="24.8" fill="#dfeeea"/>
<rect x="410.4" y="30" width="6.5" height="24.8" fill="#f7e3e1"/>
<rect x="421.5" y="30" width="6.5" height="24.8" fill="#fdd8c4"/>
<rect x="432.6" y="30" width="6.5" height="24.8" fill="#b9ded2"/>
<rect x="443.7" y="30" width="6.5" height="24.8" fill="#fde1d4"/>
<rect x="454.9" y="30" width="6.5" height="24.8" fill="#d2eae4"/>
<rect x="466.0" y="30" width="6.5" height="24.8" fill="#fccdbf"/>
<rect x="477.1" y="30" width="6.5" height="24.8" fill="#dfeeea"/>
<rect x="32" y="54.6" width="455" height="2.7" fill="#000"/>
<text x="39.5" y="47.6" font-size="11.8" font-weight="700" fill="#111" textLength="76.5" lengthAdjust="spacingAndGlyphs">season of joy</text>
<text x="378" y="47.8" font-size="11.8" font-weight="700" fill="#111" textLength="102" lengthAdjust="spacingAndGlyphs">square grid pieces</text>
<g transform="translate(190.3 43.7)"><ellipse transform="rotate(15)" cx="0" cy="-3.84" rx="2.30" ry="2.69" fill="#fff" stroke="#222" stroke-width=".7"/><ellipse transform="rotate(75)" cx="0" cy="-3.84" rx="2.30" ry="2.69" fill="#fff" stroke="#222" stroke-width=".7"/><ellipse transform="rotate(135)" cx="0" cy="-3.84" rx="2.30" ry="2.69" fill="#fff" stroke="#222" stroke-width=".7"/><ellipse transform="rotate(195)" cx="0" cy="-3.84" rx="2.30" ry="2.69" fill="#fff" stroke="#222" stroke-width=".7"/><ellipse transform="rotate(255)" cx="0" cy="-3.84" rx="2.30" ry="2.69" fill="#fff" stroke="#222" stroke-width=".7"/><ellipse transform="rotate(315)" cx="0" cy="-3.84" rx="2.30" ry="2.69" fill="#fff" stroke="#222" stroke-width=".7"/><circle r="1.66" fill="#e9a23b"/></g>
<g transform="translate(327.6 43.9)"><ellipse transform="rotate(15)" cx="0" cy="-3.84" rx="2.30" ry="2.69" fill="#fff" stroke="#222" stroke-width=".7"/><ellipse transform="rotate(75)" cx="0" cy="-3.84" rx="2.30" ry="2.69" fill="#fff" stroke="#222" stroke-width=".7"/><ellipse transform="rotate(135)" cx="0" cy="-3.84" rx="2.30" ry="2.69" fill="#fff" stroke="#222" stroke-width=".7"/><ellipse transform="rotate(195)" cx="0" cy="-3.84" rx="2.30" ry="2.69" fill="#fff" stroke="#222" stroke-width=".7"/><ellipse transform="rotate(255)" cx="0" cy="-3.84" rx="2.30" ry="2.69" fill="#fff" stroke="#222" stroke-width=".7"/><ellipse transform="rotate(315)" cx="0" cy="-3.84" rx="2.30" ry="2.69" fill="#fff" stroke="#222" stroke-width=".7"/><circle r="1.66" fill="#e9a23b"/></g>
<path d="M197.5 47.5C200 47 203 42 207.5 34.5L209 49M201.5 44.5L210.8 43.3M215.8 45C214 43.5 211.5 44.5 211.5 47C211.5 49.5 214.5 49.5 216 46.5L216.8 36.5L216.3 49M220.5 44.5C218.5 44.5 218.2 49 220.3 49C222.4 49 222.6 44.5 220.5 44.5M223.5 44.5L223.8 49M223.8 46C224.5 44.5 226 44.2 227 44.8M231.8 45.2C230 43.8 228 45 228 47C228 49.5 231 49.5 232 46.5L232.3 44.5L232.5 49M234.5 36.5L234.3 49M234.3 46C235.5 44 238.2 44.5 238.2 46.8C238.2 49.2 235.5 49.6 234.3 48M240 36.5L240.3 49M242.5 44.5L243 47.5C243.5 49.5 246 49 246.8 45L247 44.5L246.5 52C246 55 243 55 243.5 52.5C244 51 247 50 249 49M252 44C253.5 43 255.5 43.3 256.5 44M254 49C256 46 259 41 261.8 34.5L263.5 49M256.5 44.8L265 43.6M265.5 44.5L265.8 49M265.8 46C266.5 44 268.3 44.3 268.4 46L268.5 49M268.5 46C269.2 44 271 44.3 271.1 46L271.3 49M273 44.5L273.4 47.5C274 49.5 276.5 49 277.3 45L277.5 44.5L277 52C276.5 55 273.5 55 274 52.5C274.5 51 278 50 280.5 48.5" fill="none" stroke="#111" stroke-width="1.9" stroke-linecap="round" stroke-linejoin="round"/>
<text x="282" y="49.8" font-size="10.5" font-weight="700" textLength="37.5" lengthAdjust="spacingAndGlyphs"><tspan fill="#eeb4b3">d</tspan><tspan fill="#e4935f">e</tspan><tspan fill="#f0b29c">s</tspan><tspan fill="#eda468">i</tspan><tspan fill="#6fbcac">g</tspan><tspan fill="#f1a98e">n</tspan><tspan fill="#e8b3ba">s</tspan></text>
<path d="M296 40.5l1.2 -2.6 1.2 2.6M300.3 39.6l1.5 -3.6 1.5 3.6M305 40.5l1.2 -2.6 1.2 2.6" fill="none" stroke="#555" stroke-width=".7"/>
</g>
<rect x="36.3" y="74.6" width="446.4" height="294.6" fill="#78221d"/>
<svg x="36.3" y="74.6" width="446.4" height="294.6" viewBox="0 0 446.4 294.6" overflow="hidden"><use href="#grid"/></svg>
<rect x="38" y="379.3" width="446" height="296.4" fill="#2e4c2a"/>
<svg x="38" y="379.3" width="446" height="296.4" viewBox="0 0 446 296.4" overflow="hidden"><use href="#grid"/></svg>
<g transform="translate(-1.5 4.2) rotate(-0.3 259 370)" fill="none" stroke="#ee1c25" stroke-width="1.5">
<rect x="41.5" y="72.5" width="160.5" height="160.5"/>
<rect x="206.0" y="72.5" width="142" height="142"/>
<rect x="352.0" y="73.5" width="128" height="128"/>
<rect x="41.0" y="235.3" width="127.4" height="127.4"/>
<rect x="170.2" y="236.3" width="82.4" height="82.4"/>
<rect x="255.6" y="217.5" width="100.5" height="100.5"/>
<rect x="358.3" y="205.0" width="121" height="121"/>
<rect x="177.0" y="321.7" width="42.2" height="42.2"/>
<rect x="221.2" y="321.7" width="42.2" height="42.2"/>
<rect x="265.2" y="321.7" width="42.2" height="42.2"/>
<rect x="309.7" y="321.7" width="42.2" height="42.2"/>
<rect x="359.0" y="328.7" width="35.2" height="35.2"/>
<rect x="401.0" y="328.7" width="35.2" height="35.2"/>
<rect x="443.1" y="328.7" width="35.2" height="35.2"/>
<rect x="40.3" y="377.1" width="160.5" height="160.5"/>
<rect x="204.8" y="377.1" width="142" height="142"/>
<rect x="350.8" y="378.1" width="128" height="128"/>
<rect x="39.8" y="539.9" width="127.4" height="127.4"/>
<rect x="169.0" y="540.9" width="82.4" height="82.4"/>
<rect x="254.4" y="522.1" width="100.5" height="100.5"/>
<rect x="357.1" y="509.6" width="121" height="121"/>
<rect x="175.8" y="626.3" width="42.2" height="42.2"/>
<rect x="220.0" y="626.3" width="42.2" height="42.2"/>
<rect x="264.0" y="626.3" width="42.2" height="42.2"/>
<rect x="308.5" y="626.3" width="42.2" height="42.2"/>
<rect x="357.8" y="633.3" width="35.2" height="35.2"/>
<rect x="399.8" y="633.3" width="35.2" height="35.2"/>
<rect x="441.9" y="633.3" width="35.2" height="35.2"/>
</g>
<text x="210.60" y="734.2" font-size="36.5" letter-spacing="-0.541" fill="#111" stroke="#111" stroke-width="1.5" stroke-linejoin="round">page 1</text>
</g>
<g transform="translate(1163.0 654.4) rotate(3.15) translate(-259.0 -387.5)">
<rect x="1.7" y="1.7" width="514.6" height="771.6" fill="#fff" stroke="#000" stroke-width="3.4"/>
<rect x="30" y="60" width="458" height="634" fill="#000" opacity=".10" filter="url(#sh)"/>
<rect x="21" y="21.6" width="476.4" height="664.6" fill="#fff" stroke="#000" stroke-width="3.9"/>
<rect x="24" y="24.6" width="470.4" height="658.6" fill="none" stroke="#dfe5e5" stroke-width="7" filter="url(#sh2)"/>
<rect x="21" y="21.6" width="476.4" height="664.6" fill="none" stroke="#000" stroke-width="3.9"/>
<g transform="translate(0 0)">
<rect x="32.3" y="30" width="6.5" height="24.8" fill="#fdd8c4"/>
<rect x="43.4" y="30" width="6.5" height="24.8" fill="#b9ded2"/>
<rect x="54.5" y="30" width="6.5" height="24.8" fill="#fde1d4"/>
<rect x="65.7" y="30" width="6.5" height="24.8" fill="#d2eae4"/>
<rect x="76.8" y="30" width="6.5" height="24.8" fill="#fccdbf"/>
<rect x="87.9" y="30" width="6.5" height="24.8" fill="#dfeeea"/>
<rect x="99.0" y="30" width="6.5" height="24.8" fill="#f7e3e1"/>
<rect x="110.1" y="30" width="6.5" height="24.8" fill="#fdd8c4"/>
<rect x="121.3" y="30" width="6.5" height="24.8" fill="#b9ded2"/>
<rect x="132.4" y="30" width="6.5" height="24.8" fill="#fde1d4"/>
<rect x="143.5" y="30" width="6.5" height="24.8" fill="#d2eae4"/>
<rect x="154.6" y="30" width="6.5" height="24.8" fill="#fccdbf"/>
<rect x="165.7" y="30" width="6.5" height="24.8" fill="#dfeeea"/>
<rect x="176.9" y="30" width="6.5" height="24.8" fill="#f7e3e1"/>
<rect x="188.0" y="30" width="6.5" height="24.8" fill="#fdd8c4"/>
<rect x="199.1" y="30" width="6.5" height="24.8" fill="#b9ded2"/>
<rect x="210.2" y="30" width="6.5" height="24.8" fill="#fde1d4"/>
<rect x="221.3" y="30" width="6.5" height="24.8" fill="#d2eae4"/>
<rect x="232.5" y="30" width="6.5" height="24.8" fill="#fccdbf"/>
<rect x="243.6" y="30" width="6.5" height="24.8" fill="#dfeeea"/>
<rect x="254.7" y="30" width="6.5" height="24.8" fill="#f7e3e1"/>
<rect x="265.8" y="30" width="6.5" height="24.8" fill="#fdd8c4"/>
<rect x="276.9" y="30" width="6.5" height="24.8" fill="#b9ded2"/>
<rect x="288.1" y="30" width="6.5" height="24.8" fill="#fde1d4"/>
<rect x="299.2" y="30" width="6.5" height="24.8" fill="#d2eae4"/>
<rect x="310.3" y="30" width="6.5" height="24.8" fill="#fccdbf"/>
<rect x="321.4" y="30" width="6.5" height="24.8" fill="#dfeeea"/>
<rect x="332.5" y="30" width="6.5" height="24.8" fill="#f7e3e1"/>
<rect x="343.7" y="30" width="6.5" height="24.8" fill="#fdd8c4"/>
<rect x="354.8" y="30" width="6.5" height="24.8" fill="#b9ded2"/>
<rect x="365.9" y="30" width="6.5" height="24.8" fill="#fde1d4"/>
<rect x="377.0" y="30" width="6.5" height="24.8" fill="#d2eae4"/>
<rect x="388.1" y="30" width="6.5" height="24.8" fill="#fccdbf"/>
<rect x="399.3" y="30" width="6.5" height="24.8" fill="#dfeeea"/>
<rect x="410.4" y="30" width="6.5" height="24.8" fill="#f7e3e1"/>
<rect x="421.5" y="30" width="6.5" height="24.8" fill="#fdd8c4"/>
<rect x="432.6" y="30" width="6.5" height="24.8" fill="#b9ded2"/>
<rect x="443.7" y="30" width="6.5" height="24.8" fill="#fde1d4"/>
<rect x="454.9" y="30" width="6.5" height="24.8" fill="#d2eae4"/>
<rect x="466.0" y="30" width="6.5" height="24.8" fill="#fccdbf"/>
<rect x="477.1" y="30" width="6.5" height="24.8" fill="#dfeeea"/>
<rect x="32" y="54.6" width="455" height="2.7" fill="#000"/>
<text x="39.5" y="47.6" font-size="11.8" font-weight="700" fill="#111" textLength="76.5" lengthAdjust="spacingAndGlyphs">season of joy</text>
<text x="378" y="47.8" font-size="11.8" font-weight="700" fill="#111" textLength="102" lengthAdjust="spacingAndGlyphs">square grid pieces</text>
<g transform="translate(190.3 43.7)"><ellipse transform="rotate(15)" cx="0" cy="-3.84" rx="2.30" ry="2.69" fill="#fff" stroke="#222" stroke-width=".7"/><ellipse transform="rotate(75)" cx="0" cy="-3.84" rx="2.30" ry="2.69" fill="#fff" stroke="#222" stroke-width=".7"/><ellipse transform="rotate(135)" cx="0" cy="-3.84" rx="2.30" ry="2.69" fill="#fff" stroke="#222" stroke-width=".7"/><ellipse transform="rotate(195)" cx="0" cy="-3.84" rx="2.30" ry="2.69" fill="#fff" stroke="#222" stroke-width=".7"/><ellipse transform="rotate(255)" cx="0" cy="-3.84" rx="2.30" ry="2.69" fill="#fff" stroke="#222" stroke-width=".7"/><ellipse transform="rotate(315)" cx="0" cy="-3.84" rx="2.30" ry="2.69" fill="#fff" stroke="#222" stroke-width=".7"/><circle r="1.66" fill="#e9a23b"/></g>
<g transform="translate(327.6 43.9)"><ellipse transform="rotate(15)" cx="0" cy="-3.84" rx="2.30" ry="2.69" fill="#fff" stroke="#222" stroke-width=".7"/><ellipse transform="rotate(75)" cx="0" cy="-3.84" rx="2.30" ry="2.69" fill="#fff" stroke="#222" stroke-width=".7"/><ellipse transform="rotate(135)" cx="0" cy="-3.84" rx="2.30" ry="2.69" fill="#fff" stroke="#222" stroke-width=".7"/><ellipse transform="rotate(195)" cx="0" cy="-3.84" rx="2.30" ry="2.69" fill="#fff" stroke="#222" stroke-width=".7"/><ellipse transform="rotate(255)" cx="0" cy="-3.84" rx="2.30" ry="2.69" fill="#fff" stroke="#222" stroke-width=".7"/><ellipse transform="rotate(315)" cx="0" cy="-3.84" rx="2.30" ry="2.69" fill="#fff" stroke="#222" stroke-width=".7"/><circle r="1.66" fill="#e9a23b"/></g>
<path d="M197.5 47.5C200 47 203 42 207.5 34.5L209 49M201.5 44.5L210.8 43.3M215.8 45C214 43.5 211.5 44.5 211.5 47C211.5 49.5 214.5 49.5 216 46.5L216.8 36.5L216.3 49M220.5 44.5C218.5 44.5 218.2 49 220.3 49C222.4 49 222.6 44.5 220.5 44.5M223.5 44.5L223.8 49M223.8 46C224.5 44.5 226 44.2 227 44.8M231.8 45.2C230 43.8 228 45 228 47C228 49.5 231 49.5 232 46.5L232.3 44.5L232.5 49M234.5 36.5L234.3 49M234.3 46C235.5 44 238.2 44.5 238.2 46.8C238.2 49.2 235.5 49.6 234.3 48M240 36.5L240.3 49M242.5 44.5L243 47.5C243.5 49.5 246 49 246.8 45L247 44.5L246.5 52C246 55 243 55 243.5 52.5C244 51 247 50 249 49M252 44C253.5 43 255.5 43.3 256.5 44M254 49C256 46 259 41 261.8 34.5L263.5 49M256.5 44.8L265 43.6M265.5 44.5L265.8 49M265.8 46C266.5 44 268.3 44.3 268.4 46L268.5 49M268.5 46C269.2 44 271 44.3 271.1 46L271.3 49M273 44.5L273.4 47.5C274 49.5 276.5 49 277.3 45L277.5 44.5L277 52C276.5 55 273.5 55 274 52.5C274.5 51 278 50 280.5 48.5" fill="none" stroke="#111" stroke-width="1.9" stroke-linecap="round" stroke-linejoin="round"/>
<text x="282" y="49.8" font-size="10.5" font-weight="700" textLength="37.5" lengthAdjust="spacingAndGlyphs"><tspan fill="#eeb4b3">d</tspan><tspan fill="#e4935f">e</tspan><tspan fill="#f0b29c">s</tspan><tspan fill="#eda468">i</tspan><tspan fill="#6fbcac">g</tspan><tspan fill="#f1a98e">n</tspan><tspan fill="#e8b3ba">s</tspan></text>
<path d="M296 40.5l1.2 -2.6 1.2 2.6M300.3 39.6l1.5 -3.6 1.5 3.6M305 40.5l1.2 -2.6 1.2 2.6" fill="none" stroke="#555" stroke-width=".7"/>
</g>
<rect x="36.7" y="67.2" width="448" height="297.5" fill="#b0907f"/>
<svg x="36.7" y="67.2" width="448" height="297.5" viewBox="0 0 448 297.5" overflow="hidden"><use href="#grid"/></svg>
<rect x="35.6" y="375.4" width="449" height="295.5" fill="#e8b278"/>
<svg x="35.6" y="375.4" width="449" height="295.5" viewBox="0 0 449 295.5" overflow="hidden"><use href="#grid"/></svg>
<g transform="translate(0 0) rotate(0 259 370)" fill="none" stroke="#ee1c25" stroke-width="1.5">
<rect x="41.5" y="72.5" width="160.5" height="160.5"/>
<rect x="206.0" y="72.5" width="142" height="142"/>
<rect x="352.0" y="73.5" width="128" height="128"/>
<rect x="41.0" y="235.3" width="127.4" height="127.4"/>
<rect x="170.2" y="236.3" width="82.4" height="82.4"/>
<rect x="255.6" y="217.5" width="100.5" height="100.5"/>
<rect x="358.3" y="205.0" width="121" height="121"/>
<rect x="177.0" y="321.7" width="42.2" height="42.2"/>
<rect x="221.2" y="321.7" width="42.2" height="42.2"/>
<rect x="265.2" y="321.7" width="42.2" height="42.2"/>
<rect x="309.7" y="321.7" width="42.2" height="42.2"/>
<rect x="359.0" y="328.7" width="35.2" height="35.2"/>
<rect x="401.0" y="328.7" width="35.2" height="35.2"/>
<rect x="443.1" y="328.7" width="35.2" height="35.2"/>
<rect x="40.3" y="377.1" width="160.5" height="160.5"/>
<rect x="204.8" y="377.1" width="142" height="142"/>
<rect x="350.8" y="378.1" width="128" height="128"/>
<rect x="39.8" y="539.9" width="127.4" height="127.4"/>
<rect x="169.0" y="540.9" width="82.4" height="82.4"/>
<rect x="254.4" y="522.1" width="100.5" height="100.5"/>
<rect x="357.1" y="509.6" width="121" height="121"/>
<rect x="175.8" y="626.3" width="42.2" height="42.2"/>
<rect x="220.0" y="626.3" width="42.2" height="42.2"/>
<rect x="264.0" y="626.3" width="42.2" height="42.2"/>
<rect x="308.5" y="626.3" width="42.2" height="42.2"/>
<rect x="357.8" y="633.3" width="35.2" height="35.2"/>
<rect x="399.8" y="633.3" width="35.2" height="35.2"/>
<rect x="441.9" y="633.3" width="35.2" height="35.2"/>
</g>
<text x="203.30" y="735.9" font-size="36.5" letter-spacing="1.030" fill="#111" stroke="#111" stroke-width="1.5" stroke-linejoin="round">page 2</text>
</g>
<polygon points="-2,133.4 505,0 660,0 -2,169.9" fill="#f4896b" stroke="#555" stroke-opacity=".55" stroke-width=".8"/>
<g transform="translate(9.3 153.7) rotate(-14.26)" fill="#fff" stroke="#fff" stroke-width=".7" font-family="'Liberation Sans',sans-serif">
<text x="-298.15" y="0" font-size="16.4" letter-spacing="6.647">PLAN</text>
<text x="-225.25" y="0" font-size="16.4" letter-spacing="5.472">LIFE</text>
<text x="-160.73" y="0" font-size="16.4" letter-spacing="5.035">AD</text>
<path transform="translate(-121.9 0.3) scale(.96)" d="M0 -0.8C-8.2 -6 -7 -12.2 -3.3 -11.7C-1.1 -11.4 0 -9.6 0 -8.2C0 -9.6 1.1 -11.4 3.3 -11.7C7 -12.2 8.2 -6 0 -0.8Z" fill="none" stroke-width="1.7"/>
<text x="-110.85" y="0" font-size="16.4" letter-spacing="5.231">RABLY</text>
<circle cx="-16.5" cy="-6.2" r="2.3" stroke="none"/>
<text x="-1.35" y="0" font-size="16.4" letter-spacing="6.647">PLAN</text>
<text x="71.55" y="0" font-size="16.4" letter-spacing="5.472">LIFE</text>
<text x="136.07" y="0" font-size="16.4" letter-spacing="5.035">AD</text>
<path transform="translate(174.9 0.3) scale(.96)" d="M0 -0.8C-8.2 -6 -7 -12.2 -3.3 -11.7C-1.1 -11.4 0 -9.6 0 -8.2C0 -9.6 1.1 -11.4 3.3 -11.7C7 -12.2 8.2 -6 0 -0.8Z" fill="none" stroke-width="1.7"/>
<text x="185.95" y="0" font-size="16.4" letter-spacing="5.231">RABLY</text>
<circle cx="280.3" cy="-6.2" r="2.3" stroke="none"/>
<text x="295.45" y="0" font-size="16.4" letter-spacing="6.647">PLAN</text>
<text x="368.35" y="0" font-size="16.4" letter-spacing="5.472">LIFE</text>
<text x="432.87" y="0" font-size="16.4" letter-spacing="5.035">AD</text>
<path transform="translate(471.7 0.3) scale(.96)" d="M0 -0.8C-8.2 -6 -7 -12.2 -3.3 -11.7C-1.1 -11.4 0 -9.6 0 -8.2C0 -9.6 1.1 -11.4 3.3 -11.7C7 -12.2 8.2 -6 0 -0.8Z" fill="none" stroke-width="1.7"/>
<text x="482.75" y="0" font-size="16.4" letter-spacing="5.231">RABLY</text>
<circle cx="577.1" cy="-6.2" r="2.3" stroke="none"/>
<text x="592.25" y="0" font-size="16.4" letter-spacing="6.647">PLAN</text>
<text x="665.15" y="0" font-size="16.4" letter-spacing="5.472">LIFE</text>
<text x="729.67" y="0" font-size="16.4" letter-spacing="5.035">AD</text>
<path transform="translate(768.5 0.3) scale(.96)" d="M0 -0.8C-8.2 -6 -7 -12.2 -3.3 -11.7C-1.1 -11.4 0 -9.6 0 -8.2C0 -9.6 1.1 -11.4 3.3 -11.7C7 -12.2 8.2 -6 0 -0.8Z" fill="none" stroke-width="1.7"/>
<text x="779.55" y="0" font-size="16.4" letter-spacing="5.231">RABLY</text>
<circle cx="873.9" cy="-6.2" r="2.3" stroke="none"/>
</g>
<polygon points="-2,245.9 553.5,0 629.6,0 -2,286" fill="#a0d4ca" stroke="#555" stroke-opacity=".55" stroke-width=".8"/>
<g transform="translate(14.9 263.2) rotate(-24.09)" fill="#fff" stroke="#fff" stroke-width=".7" font-family="'Liberation Sans',sans-serif">
<text x="-307.73" y="0" font-size="16.6" letter-spacing="4.067">AD</text>
<path transform="translate(-272.7 0.3) scale(.98)" d="M0 -0.8C-8.2 -6 -7 -12.2 -3.3 -11.7C-1.1 -11.4 0 -9.6 0 -8.2C0 -9.6 1.1 -11.4 3.3 -11.7C7 -12.2 8.2 -6 0 -0.8Z" fill="none" stroke-width="1.7"/>
<text x="-262.76" y="0" font-size="16.6" letter-spacing="4.323">RABLY</text>
<text x="-177.63" y="0" font-size="16.6" letter-spacing="3.463">AMY</text>
<text x="-123.96" y="0" font-size="16.6" letter-spacing="4.168">DESIGNS</text>
<circle cx="-18.7" cy="-6" r="2.3" stroke="none"/>
<text x="-0.03" y="0" font-size="16.6" letter-spacing="4.067">AD</text>
<path transform="translate(35.0 0.3) scale(.98)" d="M0 -0.8C-8.2 -6 -7 -12.2 -3.3 -11.7C-1.1 -11.4 0 -9.6 0 -8.2C0 -9.6 1.1 -11.4 3.3 -11.7C7 -12.2 8.2 -6 0 -0.8Z" fill="none" stroke-width="1.7"/>
<text x="44.94" y="0" font-size="16.6" letter-spacing="4.323">RABLY</text>
<text x="130.07" y="0" font-size="16.6" letter-spacing="3.463">AMY</text>
<text x="183.74" y="0" font-size="16.6" letter-spacing="4.168">DESIGNS</text>
<circle cx="289.0" cy="-6" r="2.3" stroke="none"/>
<text x="307.67" y="0" font-size="16.6" letter-spacing="4.067">AD</text>
<path transform="translate(342.7 0.3) scale(.98)" d="M0 -0.8C-8.2 -6 -7 -12.2 -3.3 -11.7C-1.1 -11.4 0 -9.6 0 -8.2C0 -9.6 1.1 -11.4 3.3 -11.7C7 -12.2 8.2 -6 0 -0.8Z" fill="none" stroke-width="1.7"/>
<text x="352.64" y="0" font-size="16.6" letter-spacing="4.323">RABLY</text>
<text x="437.77" y="0" font-size="16.6" letter-spacing="3.463">AMY</text>
<text x="491.44" y="0" font-size="16.6" letter-spacing="4.168">DESIGNS</text>
<circle cx="596.7" cy="-6" r="2.3" stroke="none"/>
<text x="615.37" y="0" font-size="16.6" letter-spacing="4.067">AD</text>
<path transform="translate(650.4 0.3) scale(.98)" d="M0 -0.8C-8.2 -6 -7 -12.2 -3.3 -11.7C-1.1 -11.4 0 -9.6 0 -8.2C0 -9.6 1.1 -11.4 3.3 -11.7C7 -12.2 8.2 -6 0 -0.8Z" fill="none" stroke-width="1.7"/>
<text x="660.34" y="0" font-size="16.6" letter-spacing="4.323">RABLY</text>
<text x="745.47" y="0" font-size="16.6" letter-spacing="3.463">AMY</text>
<text x="799.14" y="0" font-size="16.6" letter-spacing="4.168">DESIGNS</text>
<circle cx="904.4" cy="-6" r="2.3" stroke="none"/>
</g>
<text x="42.46" y="387.1" font-size="55.5" letter-spacing="0.896" fill="#0a0a0a" stroke="#0a0a0a" stroke-width="2.4" stroke-linejoin="round">square grid</text>
<text x="104.42" y="443.0" font-size="55.5" letter-spacing="0.291" fill="#0a0a0a" stroke="#0a0a0a" stroke-width="2.4" stroke-linejoin="round">pieces</text>
<text x="103.34" y="498.5" font-size="55.5" letter-spacing="2.732" fill="#0a0a0a" stroke="#0a0a0a" stroke-width="2.4" stroke-linejoin="round">addon</text>
<text x="1278.83" y="37.1" font-size="26" letter-spacing="0.761" fill="#0a0a0a" stroke="#0a0a0a" stroke-width="1.3" stroke-linejoin="round">sheet size:</text>
<text x="1295.55" y="64.6" font-size="26" letter-spacing="1.695" fill="#0a0a0a" stroke="#0a0a0a" stroke-width="1.3" stroke-linejoin="round">4.88” w</text>
<text x="1301.72" y="92.0" font-size="26" letter-spacing="1.719" fill="#0a0a0a" stroke="#0a0a0a" stroke-width="1.3" stroke-linejoin="round">7.00” t</text>
<text x="561.86" y="971.4" font-size="26" letter-spacing="0.750" fill="#0a0a0a" stroke="#0a0a0a" stroke-width="1.1" stroke-linejoin="round">these are a 2 page set</text>
<text x="623.12" y="1008.2" font-size="20" letter-spacing="0.613" fill="#0a0a0a" stroke="#0a0a0a" stroke-width="0.7" stroke-linejoin="round">red lines indicate</text>
<text x="667.50" y="1031.2" font-size="20" letter-spacing="0.723" fill="#0a0a0a" stroke="#0a0a0a" stroke-width="0.7" stroke-linejoin="round">cutlines</text>
<text x="898.16" y="201.4" font-size="55" letter-spacing="0.000" fill="#0a0a0a" stroke="#0a0a0a" stroke-width="2.0" stroke-linejoin="round">a</text>
</svg>
</body></html>
